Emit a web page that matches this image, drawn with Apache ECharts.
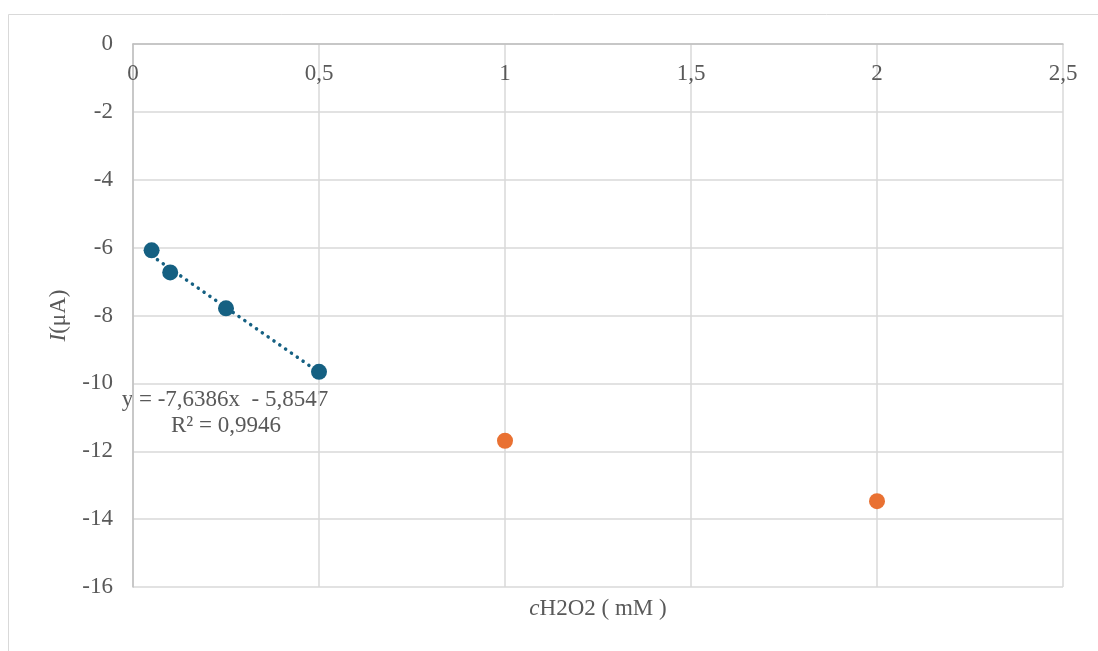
<!DOCTYPE html>
<html>
<head>
<meta charset="utf-8">
<script src="https://cdn.jsdelivr.net/npm/echarts@6/dist/echarts.min.js"></script>
<style>html,body{margin:0;padding:0;background:#fff}#c{width:1098px;height:651px}</style>
</head>
<body>
<div id="c"></div>
<script>
// Data
const calibX = [0.05, 0.1, 0.25, 0.5];
const calibY = [-6.08, -6.73, -7.79, -9.66];
const extraX = [1, 2];
const extraY = [-11.69, -13.47];
// Linear trendline (as labelled): y = -7.6386x - 5.8547, endpoints over the fitted range
const trendX = [0.05, 0.5];
const trendY = [-6.2366, -9.6740];
const xTicks = [0, 0.5, 1, 1.5, 2, 2.5];
const yTicks = [0, -2, -4, -6, -8, -10, -12, -14, -16];
const trendText1 = 'y = -7,6386x  - 5,8547';
const trendText2 = 'R² = 0,9946';

const FONT = '"Liberation Serif", "Times New Roman", serif';
const TXT = '#595959';
const FS = 23;
const fmt = v => String(v).replace('.', ',');

const chart = echarts.init(document.getElementById('c'), null, {renderer: 'canvas'});
chart.setOption({
  animation: false,
  backgroundColor: '#fff',
  grid: {left: 133, top: 44, right: 35, bottom: 64, containLabel: false},
  graphic: [
    {type: 'rect', shape: {x: 8.5, y: 14.5, width: 1200, height: 1000}, style: {fill: 'none', stroke: '#d9d9d9', lineWidth: 1}, silent: true, z: -10},
    {type: 'text', x: 225, y: 400, style: {text: trendText1, font: FS + 'px ' + FONT, fill: TXT, align: 'center', verticalAlign: 'middle'}},
    {type: 'text', x: 226, y: 426, style: {text: trendText2, font: FS + 'px ' + FONT, fill: TXT, align: 'center', verticalAlign: 'middle'}}
  ],
  xAxis: {
    type: 'value', position: 'top', min: 0, max: 2.5, interval: 0.5,
    name: '{i|c}{n|H2O2 ( mM )}', nameLocation: 'middle', nameGap: -576,
    nameTextStyle: {rich: {
      i: {fontFamily: FONT, fontSize: FS, fontStyle: 'italic', color: TXT},
      n: {fontFamily: FONT, fontSize: FS, color: TXT}
    }},
    axisLine: {show: true, lineStyle: {color: '#bfbfbf', width: 1.5}},
    axisTick: {show: false},
    axisLabel: {inside: true, margin: 18, fontFamily: FONT, fontSize: FS, color: TXT, formatter: v => fmt(v)},
    splitLine: {show: true, lineStyle: {color: '#d9d9d9', width: 1.5}}
  },
  yAxis: {
    type: 'value', min: -16, max: 0, interval: 2,
    name: '{i|I}{n|(μA)}', nameLocation: 'middle', nameGap: 63, nameRotate: 90,
    nameTextStyle: {rich: {
      i: {fontFamily: FONT, fontSize: FS, fontStyle: 'italic', color: TXT},
      n: {fontFamily: FONT, fontSize: FS, color: TXT}
    }},
    axisLine: {show: true, lineStyle: {color: '#bfbfbf', width: 1.5}},
    axisTick: {show: false},
    axisLabel: {margin: 20, fontFamily: FONT, fontSize: FS, color: TXT, formatter: v => fmt(v)},
    splitLine: {show: true, lineStyle: {color: '#d9d9d9', width: 1.5}}
  },
  series: [
    {
      type: 'line', data: trendX.map((x, i) => [x, trendY[i]]), showSymbol: false, symbol: 'none',
      lineStyle: {color: '#156082', width: 3.5, type: [0.1, 7], cap: 'round', opacity: 1}, z: 2
    },
    {
      type: 'scatter', data: calibX.map((x, i) => [x, calibY[i]]), symbolSize: 16,
      itemStyle: {color: '#156082', opacity: 1}, z: 3
    },
    {
      type: 'scatter', data: extraX.map((x, i) => [x, extraY[i]]), symbolSize: 16,
      itemStyle: {color: '#e97132', opacity: 1}, z: 3
    }
  ]
});
</script>
</body>
</html>
